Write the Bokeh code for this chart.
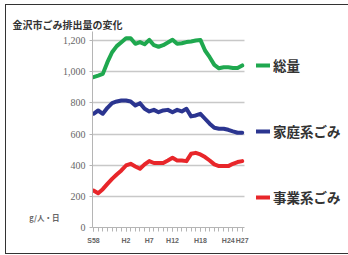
from bokeh.plotting import figure
from bokeh.models import (Range1d, FixedTicker, NumeralTickFormatter, Legend, LegendItem,
                          LinearAxis, ColumnDataSource, InlineStyleSheet)
from bokeh.embed import file_html
from bokeh.resources import INLINE

# ---- data ----
years = list(range(1983, 2016))  # S58 .. H27
total = [965, 975, 986, 1061, 1125, 1164, 1189, 1215, 1215, 1179,
         1190, 1176, 1204, 1170, 1160, 1170, 1187, 1205, 1179, 1183,
         1190, 1194, 1200, 1204, 1136, 1093, 1044, 1022, 1028, 1028,
         1024, 1024, 1040]
household = [730, 751, 730, 768, 798, 809, 815, 815, 809, 783,
             798, 762, 745, 755, 740, 751, 755, 740, 755, 745,
             762, 713, 719, 730, 698, 666, 640, 634, 634, 627,
             617, 608, 608]
business = [237, 220, 246, 280, 312, 340, 366, 398, 409, 392,
            377, 405, 426, 414, 414, 414, 430, 447, 430, 430,
            426, 473, 479, 469, 452, 430, 405, 394, 394, 394,
            409, 420, 426]
tick_years = [1983, 1990, 1995, 2000, 2006, 2012, 2015]
tick_labels = ["S58", "H2", "H7", "H12", "H18", "H24", "H27"]
y_ticks = [0, 200, 400, 600, 800, 1000, 1200]
series_names = ["総量", "家庭系ごみ", "事業系ごみ"]
title_text = "金沢市ごみ排出量の変化"
unit_text = "g/人・日"
unit_at = 64

colors = ["#1fa84f", "#2b3590", "#e8262a"]
JP = "Noto Sans CJK JP"

x_lo, x_hi = 1982.785, 2015.49   # extent of the plotted years area
x_view_hi = 2037.87               # frame continues right to hold the legend

src = ColumnDataSource(dict(year=years, total=total, household=household, business=business))

frame_css = InlineStyleSheet(css="""
:host { position: relative; }
:host::after {
  content: ""; position: absolute; left: 5px; top: 4px; width: 343px; height: 250px;
  border-top: 1.5px solid #333; border-left: 1.5px solid #333; border-bottom: 1.5px solid #333;
  pointer-events: none; box-sizing: border-box;
}
""")

p = figure(width=348, height=255, output_backend="svg", toolbar_location=None,
           x_range=Range1d(x_lo, x_view_hi), y_range=Range1d(0, 1258),
           min_border_left=92, min_border_right=0, min_border_top=31, min_border_bottom=28,
           stylesheets=[frame_css])
p.outline_line_color = None
p.background_fill_color = "white"

# title
p.title.text = title_text
p.title.align = "left"
p.title.offset = -80
p.title.standoff = 0
p.title.text_font = JP
p.title.text_font_size = "10px"
p.title.text_font_style = "bold"
p.title.text_color = "#333333"

renderers = []
for col, c in zip(["total", "household", "business"], colors):
    r = p.line("year", col, source=src, line_color=c, line_width=4, line_join="round", line_cap="round")
    renderers.append(r)

# x axis
xa = p.xaxis[0]
xa.bounds = (x_lo, x_hi)
xa.ticker = FixedTicker(ticks=tick_years, minor_ticks=years)
xa.major_label_overrides = {y: l for y, l in zip(tick_years, tick_labels)}
xa.axis_line_color = "#b5b5b5"
xa.major_tick_line_color = "#b5b5b5"
xa.minor_tick_line_color = "#b5b5b5"
xa.major_tick_in = 0
xa.major_tick_out = 4
xa.minor_tick_in = 0
xa.minor_tick_out = 4
xa.major_label_standoff = 5
xa.major_label_text_font = "Liberation Sans"
xa.major_label_text_font_style = "bold"
xa.major_label_text_font_size = "7px"
xa.major_label_text_color = "#666666"

# y axis
ya = p.yaxis[0]
ya.ticker = FixedTicker(ticks=y_ticks)
ya.formatter = NumeralTickFormatter(format="0,0")
ya.axis_line_color = "#b5b5b5"
ya.major_tick_line_color = "#b5b5b5"
ya.minor_tick_line_color = None
ya.major_tick_in = 0
ya.major_tick_out = 3
ya.major_label_standoff = 4
ya.major_label_text_font = "Liberation Serif"
ya.major_label_text_font_size = "10px"
ya.major_label_text_color = "#666666"

# unit label as an outer left axis with a single labelled tick
ua = LinearAxis(ticker=FixedTicker(ticks=[unit_at]), major_label_overrides={unit_at: unit_text},
                axis_line_color=None, major_tick_line_color=None, minor_tick_line_color=None,
                major_tick_in=0, major_tick_out=0,
                major_label_standoff=0, major_label_text_font=JP, major_label_text_font_size="7.5px",
                major_label_text_font_style="bold", major_label_text_color="#666666")
p.add_layout(ua, "left")

p.xgrid.grid_line_color = None
yg = p.ygrid[0]
yg.grid_line_color = "#c8c8c8"
yg.grid_line_width = 1.5
try:
    yg.cross_bounds = (x_lo, x_hi)
except AttributeError:
    pass

legend = Legend(items=[LegendItem(label=n, renderers=[r]) for n, r in zip(series_names, renderers)],
                location=(164, 8), orientation="vertical", spacing=22, padding=0, margin=0,
                glyph_width=14, glyph_height=44, label_height=44, label_standoff=3,
                label_text_font=JP, label_text_font_size="13.5px", label_text_font_style="bold",
                label_text_color="#333333", border_line_color=None, background_fill_alpha=0)
p.add_layout(legend, "center")

open("out.html", "w").write(file_html(p, INLINE))
